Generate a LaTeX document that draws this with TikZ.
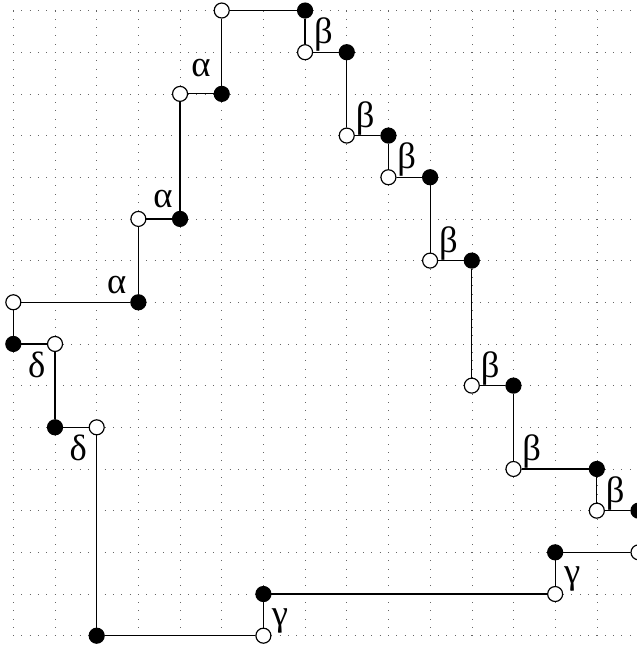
\documentclass[tikz,border=0pt]{standalone}
\usepackage{fontspec}
\setmainfont{Liberation Serif}
\begin{document}
\begin{tikzpicture}[
	    wdot/.style={circle, draw, fill=white, inner sep=0pt, minimum size=0.36cm, line width=0.8pt},
	    bdot/.style={circle, draw, fill=black, inner sep=0pt, minimum size=0.36cm, line width=0.8pt},
	    lbl/.style={font=\fontsize{25}{28}\selectfont, inner sep=0pt}]
	    \useasboundingbox (-0.32,-0.247) rectangle (14.94,15.253);
	    \draw[black!60, line width=0.4pt, dash pattern=on 0.5pt off 5.1906pt, dash phase=0.25pt] (0,0) grid (15,15);

	    \foreach \x/\y/\s [count=\i] in {5/15/wdot, 7/15/bdot, 7/14/wdot, 8/14/bdot, 8/12/wdot, 9/12/bdot,
	        9/11/wdot, 10/11/bdot, 10/9/wdot, 11/9/bdot, 11/6/wdot, 12/6/bdot, 12/4/wdot, 14/4/bdot,
	        14/3/wdot, 15/3/bdot, 15/2/wdot, 13/2/bdot, 13/1/wdot, 6/1/bdot, 6/0/wdot, 2/0/bdot,
	        2/5/wdot, 1/5/bdot, 1/7/wdot, 0/7/bdot, 0/8/wdot, 3/8/bdot, 3/10/wdot, 4/10/bdot,
	        4/13/wdot, 5/13/bdot}
		\node[\s] (p\i) at (\x,\y) {};

	    \foreach \i [remember=\i as \j (initially 32)] in {1,...,32}
		\draw[line width=0.8pt] (p\j) -- (p\i);

	    \node[lbl] (al1) at (4.5,13.62) {α};
	    \node[lbl] (al2) at (3.59,10.48) {α};
	    \node[lbl] (al3) at (2.48,8.42) {α};
	    \node[lbl] (be1) at (7.44,14.42) {β};
	    \node[lbl] (be2) at (8.44,12.42) {β};
	    \node[lbl] (be3) at (9.44,11.42) {β};
	    \node[lbl] (be4) at (10.44,9.42) {β};
	    \node[lbl] (be5) at (11.44,6.42) {β};
	    \node[lbl] (be6) at (12.44,4.42) {β};
	    \node[lbl] (be7) at (14.44,3.42) {β};
	    \node[lbl] (ga1) at (13.41,1.36) {γ};
	    \node[lbl] (ga2) at (6.4,0.36) {γ};
	    \node[lbl] (de1) at (0.56,6.5) {δ};
	    \node[lbl] (de2) at (1.56,4.5) {δ};
\end{tikzpicture}
\end{document}
